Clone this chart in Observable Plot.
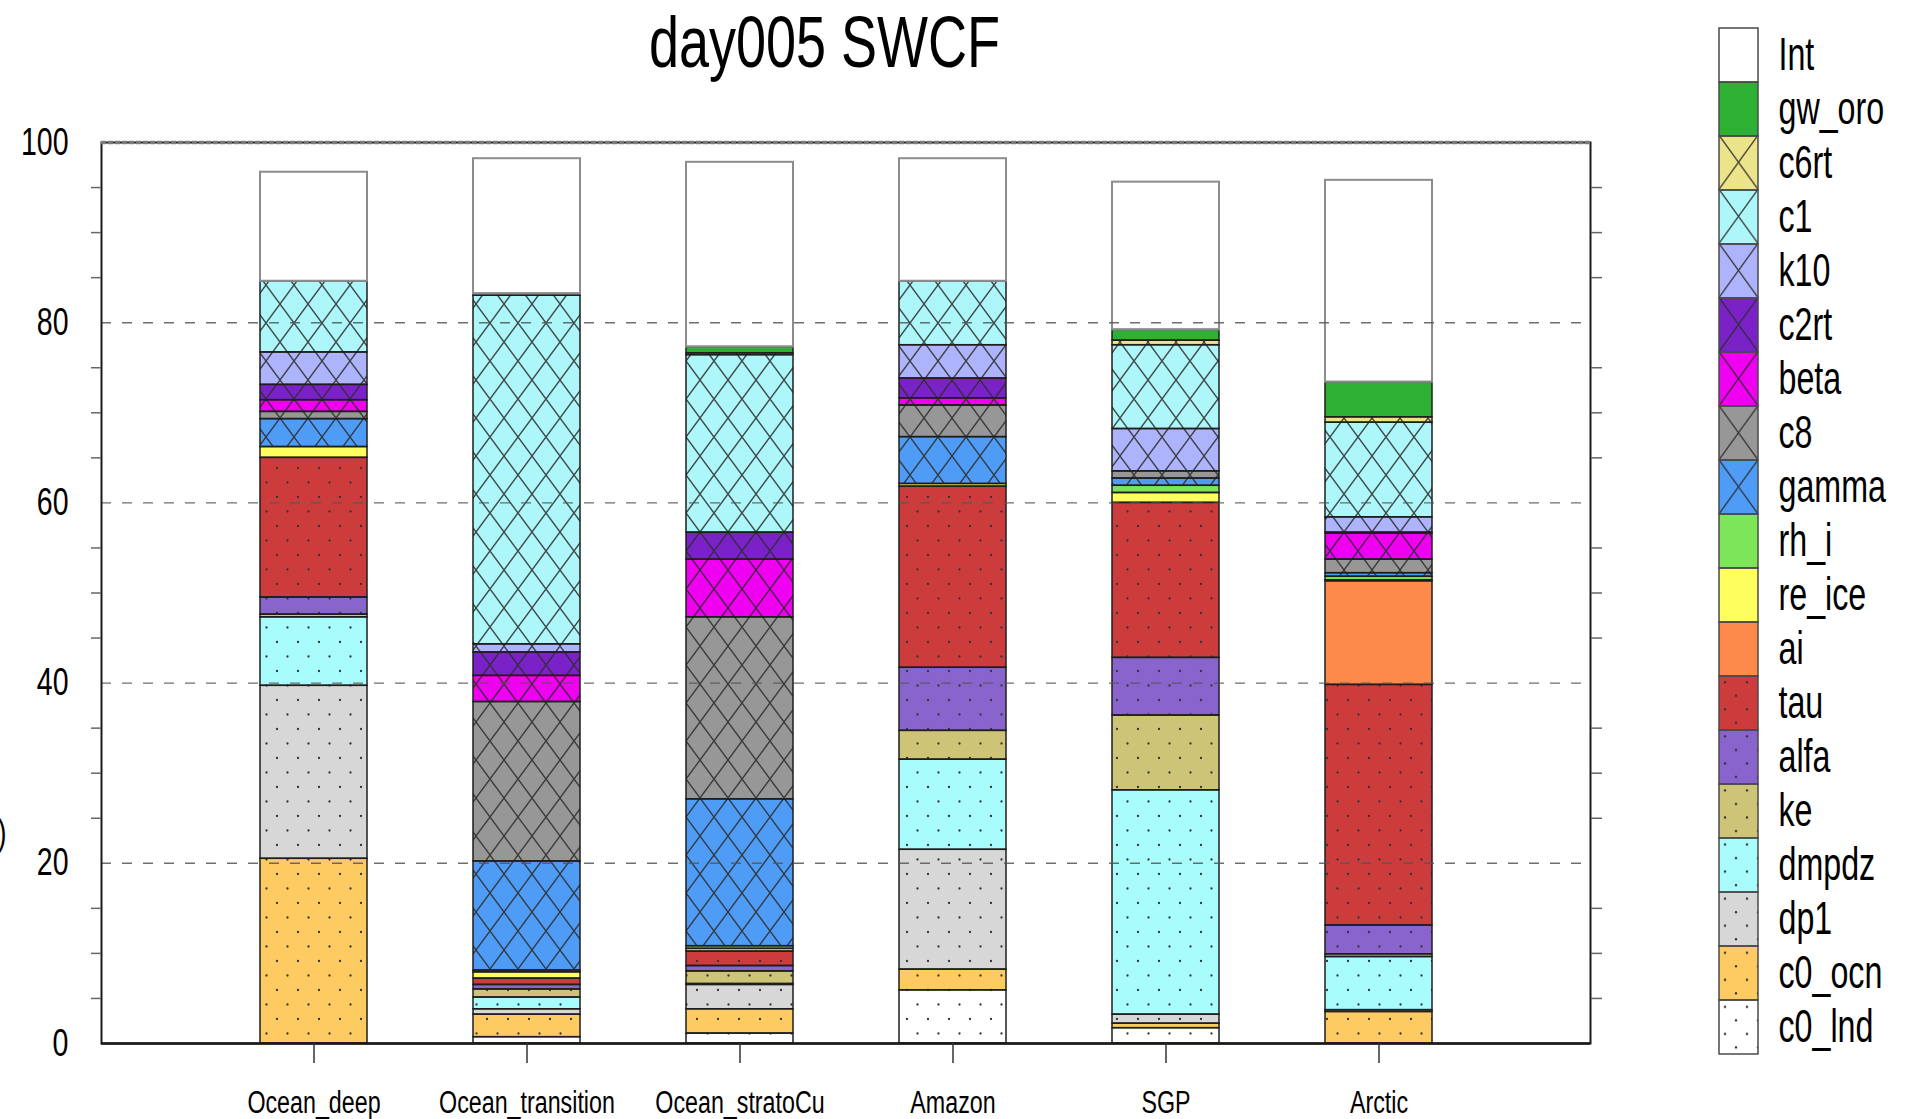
<!DOCTYPE html>
<html>
<head>
<meta charset="utf-8">
<script src="https://cdn.jsdelivr.net/npm/d3@7"></script>
<script src="https://cdn.jsdelivr.net/npm/@observablehq/plot@0.6"></script>
<style>
html, body { margin: 0; padding: 0; background: #fff; }
#wrap { position: relative; width: 1906px; height: 1119px; overflow: hidden; background: #fff; }
#main { position: absolute; left: 0; top: 0; }
#legend { position: absolute; left: 1719px; top: 0; }
</style>
</head>
<body>
<svg width="0" height="0" style="position:absolute">
  <defs>
    <pattern id="hatch" patternUnits="userSpaceOnUse" width="28" height="38">
      <path d="M0,0L28,38M28,0L0,38" stroke="#2b2b2b" stroke-width="1.4" stroke-opacity="0.85" fill="none"/>
    </pattern>
    <pattern id="dots" patternUnits="userSpaceOnUse" width="21" height="29">
      <circle cx="4" cy="4" r="1.15" fill="#333"/>
      <circle cx="14.5" cy="18.5" r="1.15" fill="#333"/>
    </pattern>
    <pattern id="hatchL" patternUnits="userSpaceOnUse" x="0" y="27" width="39" height="54.1">
      <path d="M0,0L39,54.1M39,0L0,54.1" stroke="#2b2b2b" stroke-width="1.4" stroke-opacity="0.85" fill="none"/>
    </pattern>
    <pattern id="dotsL" patternUnits="userSpaceOnUse" x="0" y="27" width="22" height="27.05">
      <circle cx="6" cy="6" r="1.15" fill="#333"/>
      <circle cx="17" cy="19.5" r="1.15" fill="#333"/>
    </pattern>
  </defs>
</svg>
<div id="wrap">
  <div id="main"></div>
  <div id="legend"></div>
</div>
<script>
// ---- data ----
const title = "day005 SWCF";
const sites = ["Ocean_deep", "Ocean_transition", "Ocean_stratoCu", "Amazon", "SGP", "Arctic"];
// series, bottom of the stack to top
const series = ["c0_lnd", "c0_ocn", "dp1", "dmpdz", "ke", "alfa", "tau", "ai", "re_ice", "rh_i",
                "gamma", "c8", "beta", "c2rt", "k10", "c1", "c6rt", "gw_oro", "Int"];
// segment heights per site (Ocean_deep, Ocean_transition, Ocean_stratoCu, Amazon, SGP, Arctic)
const c0_lnd = [0.0, 0.7, 1.1, 5.9, 1.7, 0.0];
const c0_ocn = [20.5, 2.5, 2.7, 2.3, 0.5, 3.5];
const dp1    = [19.2, 0.6, 2.7, 13.3, 1.0, 0.2];
const dmpdz  = [7.6, 1.3, 0.1, 10.0, 24.9, 5.9];
const ke     = [0.3, 0.9, 1.4, 3.2, 8.3, 0.3];
const alfa   = [1.9, 0.5, 0.6, 7.0, 6.4, 3.2];
const tau    = [15.5, 0.7, 1.6, 20.1, 17.2, 26.7];
const ai     = [0.0, 0.0, 0.0, 0.0, 0.0, 11.5];
const re_ice = [1.2, 0.7, 0.3, 0.3, 1.1, 0.1];
const rh_i   = [0.0, 0.2, 0.3, 0.0, 0.8, 0.4];
const gamma  = [3.1, 12.1, 16.3, 5.2, 0.8, 0.4];
const c8     = [0.8, 17.7, 20.2, 3.5, 0.8, 1.5];
const beta   = [1.3, 2.9, 6.4, 0.8, 0.0, 2.9];
const c2rt   = [1.7, 2.6, 3.0, 2.2, 0.0, 0.1];
const k10    = [3.6, 0.9, 0.0, 3.7, 4.7, 1.7];
const c1     = [7.9, 38.7, 19.7, 7.1, 9.3, 10.5];
const c6rt   = [0.0, 0.2, 0.2, 0.0, 0.5, 0.6];
const gw_oro = [0.0, 0.0, 0.7, 0.0, 1.2, 3.9];
const Int    = [12.1, 15.0, 20.5, 13.6, 16.4, 22.4];
const seriesValues = [c0_lnd, c0_ocn, dp1, dmpdz, ke, alfa, tau, ai, re_ice, rh_i,
                      gamma, c8, beta, c2rt, k10, c1, c6rt, gw_oro, Int];
const seriesColors = ["#ffffff", "#fecb62", "#d7d7d7", "#a8fcfc", "#cdc477", "#8864cc", "#cd3c3c",
                      "#fd8a4a", "#fefe5e", "#7de55a", "#4f9cf7", "#979797", "#f000f0", "#7a22c8",
                      "#adb4fb", "#adf7fb", "#ece48a", "#2db034", "#ffffff"];
const seriesPatterns = ["dots", "dots", "dots", "dots", "dots", "dots", "dots",
                        null, null, null,
                        "hatch", "hatch", "hatch", "hatch", "hatch", "hatch", "hatch",
                        null, null];
const yLabelTicks = [0, 20, 40, 60, 80, 100];
const yMinorTicks = [5, 10, 15, 25, 30, 35, 45, 50, 55, 65, 70, 75, 85, 90, 95];
const gridTicks = [20, 40, 60, 80];

// ---- table ----
const rows = [];
sites.forEach((s, i) => series.forEach((k, j) => rows.push({
  site: s, series: k, value: seriesValues[j][i], color: seriesColors[j], pattern: seriesPatterns[j]
})));
const purl = (p, legend) => p ? `url(#${p}${legend ? "L" : ""})` : "none";

const font = "'Liberation Sans', Arial, Helvetica, sans-serif";

const main = Plot.plot({
  width: 1906, height: 1119,
  marginLeft: 101, marginRight: 316, marginTop: 142, marginBottom: 76,
  style: {fontFamily: font, color: "#000", background: "transparent", overflow: "visible"},
  x: {domain: sites, paddingInner: 0.5, paddingOuter: 0.745, align: 0.5, label: null},
  y: {domain: [0, 100], label: null},
  color: {type: "identity"},
  marks: [
    Plot.barY(rows, {x: "site", y: "value", z: "series", order: series, fill: "color"}),
    Plot.barY(rows, {x: "site", y: "value", z: "series", order: series,
      fill: d => purl(d.pattern, false),
      stroke: d => d.series === "Int" ? "#8c8c8c" : "#1e1e1e",
      strokeWidth: d => d.series === "Int" ? 2 : 1.5}),
    Plot.ruleY(gridTicks, {stroke: "#555", strokeWidth: 1.4, strokeDasharray: "10,11", strokeOpacity: 0.85}),
    Plot.frame({stroke: "#1a1a1a", strokeWidth: 2}),
    Plot.ruleY([100], {stroke: "#7a7a7a", strokeWidth: 3.5, strokeDasharray: "5,2"}),
    Plot.ruleY([0], {stroke: "#1a1a1a", strokeWidth: 2.5}),
    Plot.axisY({ticks: yLabelTicks, tickSize: 0, tickPadding: 33, fontSize: 38, label: null, tickFormat: d => String(d)}),
    Plot.axisY({ticks: yMinorTicks, tickSize: 10, tickFormat: () => "", label: null, stroke: "#666", strokeWidth: 1.5}),
    Plot.axisY({anchor: "right", ticks: yMinorTicks, tickSize: 11, tickFormat: () => "", label: null, stroke: "#666", strokeWidth: 1.5}),
    Plot.axisX({tickSize: 20, tickPadding: 27, fontSize: 31, label: null, stroke: "#333", strokeWidth: 1.5}),
    Plot.text([title], {text: d => d, frameAnchor: "top", dx: -21.5, dy: -76, fontSize: 72, lineAnchor: "bottom"}),
    Plot.text([")"], {text: d => d, frameAnchor: "left", dx: -95, dy: 240, textAnchor: "end", fontSize: 36})
  ]
});
document.getElementById("main").append(main);

const legendNames = series.slice().reverse();
const legendRows = legendNames.map(n => {
  const j = series.indexOf(n);
  return {name: n, color: seriesColors[j], pattern: seriesPatterns[j]};
});
const legend = Plot.plot({
  width: 187, height: 1119,
  marginLeft: 0, marginRight: 0, marginTop: 0, marginBottom: 0,
  style: {fontFamily: font, color: "#000", background: "transparent", overflow: "visible"},
  x: {domain: ["swatch"], range: [0, 39], padding: 0, axis: null},
  y: {domain: legendNames, range: [27, 1055], padding: 0, axis: null},
  color: {type: "identity"},
  marks: [
    Plot.cell(legendRows, {x: () => "swatch", y: "name", fill: "color", inset: 0}),
    Plot.cell(legendRows, {x: () => "swatch", y: "name", fill: d => purl(d.pattern, true), stroke: "#4a4a4a", strokeWidth: 1.5, inset: 0}),
    Plot.text(legendRows, {x: () => "swatch", y: "name", text: "name", textAnchor: "start", dx: 39.5, fontSize: 46})
  ]
});
document.getElementById("legend").append(legend);

// condensed lettering like the original figure
function condense(svg, k) {
  svg.querySelectorAll("text").forEach(t => {
    if (!t.textContent.trim()) return;
    const len = t.getComputedTextLength();
    if (len > 0) {
      t.setAttribute("textLength", (len * k).toFixed(1));
      t.setAttribute("lengthAdjust", "spacingAndGlyphs");
    }
  });
}
condense(main, 0.75);
condense(legend, 0.7);
</script>
</body>
</html>
